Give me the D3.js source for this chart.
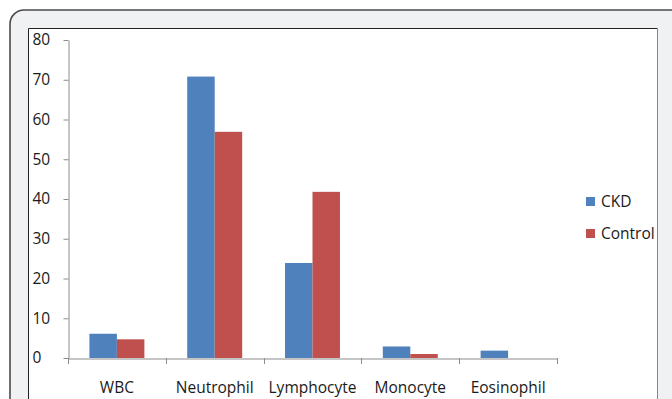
<!DOCTYPE html>
<html><head><meta charset="utf-8">
<script src="https://cdn.jsdelivr.net/npm/d3@7"></script>
<style>body{margin:0;background:#fff;}svg{display:block;}</style>
</head><body>
<script>
const categories = ["WBC", "Neutrophil", "Lymphocyte", "Monocyte", "Eosinophil"];
const seriesNames = ["CKD", "Control"];
const ckd = [6.1, 70.8, 23.9, 2.9, 1.85];
const control = [4.7, 56.9, 41.8, 1.0, 0];
const yTicks = [0, 10, 20, 30, 40, 50, 60, 70, 80];
const colors = ["#4f81bd", "#c0504d"];

const W = 672, H = 399;
const svg = d3.select("body").append("svg").attr("width", W).attr("height", H);
const font = "'Open Sans', sans-serif";

// outer frame
svg.append("rect").attr("x", 10).attr("y", 10).attr("width", 700).attr("height", 450)
  .attr("rx", 14).attr("fill", "#f0f1f3").attr("stroke", "#4a4a4a").attr("stroke-width", 1.6);
// inner white panel
svg.append("rect").attr("x", 28.5).attr("y", 28.5).attr("width", 629).attr("height", 420)
  .attr("fill", "#fff").attr("stroke", "none");
svg.append("path").attr("d", "M28.5,420V28.5H657.5").attr("fill", "none").attr("stroke", "#222").attr("stroke-width", 1);
svg.append("path").attr("d", "M657.5,28.5V420").attr("fill", "none").attr("stroke", "#888").attr("stroke-width", 1);

const x0 = d3.scaleBand().domain(categories).range([68, 557]).padding(0);
const y = d3.scaleLinear().domain([0, 80]).range([358, 40]);
const barW = x0.bandwidth() * 0.281;
const x1 = d3.scaleBand().domain(seriesNames)
  .range([(x0.bandwidth() - 2 * barW) / 2, (x0.bandwidth() + 2 * barW) / 2]).padding(0);

const data = categories.map((c, i) => ({cat: c, vals: [ckd[i], control[i]]}));

const g = svg.append("g");
g.selectAll("g.cat").data(data).join("g").attr("class", "cat")
  .attr("transform", d => `translate(${x0(d.cat)},0)`)
  .selectAll("rect").data(d => d.vals.map((v, j) => ({v, j})))
  .join("rect")
  .attr("x", d => x1(seriesNames[d.j]))
  .attr("y", d => y(d.v))
  .attr("width", x1.bandwidth())
  .attr("height", d => y(0) - y(d.v))
  .attr("fill", d => colors[d.j]);

// y axis
const yAxis = svg.append("g").attr("transform", "translate(68.5,0)")
  .call(d3.axisLeft(y).tickValues(yTicks).tickSize(5).tickSizeOuter(0));
yAxis.select(".domain").attr("stroke", "#8c8c8c");
yAxis.selectAll(".tick line").attr("stroke", "#8c8c8c");
yAxis.selectAll(".tick text").attr("x", -36).attr("text-anchor", "start")
  .attr("font-family", font).attr("font-size", 15.5).attr("fill", "#1a1a1a");

// x axis
const xAxis = svg.append("g").attr("transform", "translate(0,358.5)")
  .call(d3.axisBottom(x0).tickSize(0).tickSizeOuter(0));
xAxis.select(".domain").attr("stroke", "#8c8c8c");
xAxis.selectAll(".tick text").attr("dy", 0).attr("y", 34)
  .attr("font-family", font).attr("font-size", 15.5).attr("fill", "#1a1a1a");
const bounds = categories.map(c => x0(c)).concat([x0.range()[1]]);
svg.append("g").selectAll("line").data(bounds).join("line")
  .attr("x1", d => Math.round(d) + 0.5).attr("x2", d => Math.round(d) + 0.5)
  .attr("y1", 358).attr("y2", 364).attr("stroke", "#8c8c8c");

// legend
const leg = svg.append("g").selectAll("g").data(seriesNames).join("g")
  .attr("transform", (d, i) => `translate(586,${197 + i * 32})`);
leg.append("rect").attr("width", 9).attr("height", 9).attr("fill", (d, i) => colors[i]);
leg.append("text").attr("x", 15).attr("y", 5).attr("dy", "0.35em")
  .attr("font-family", font).attr("font-size", 15.5).attr("fill", "#1a1a1a").text(d => d);
</script>
</body></html>
